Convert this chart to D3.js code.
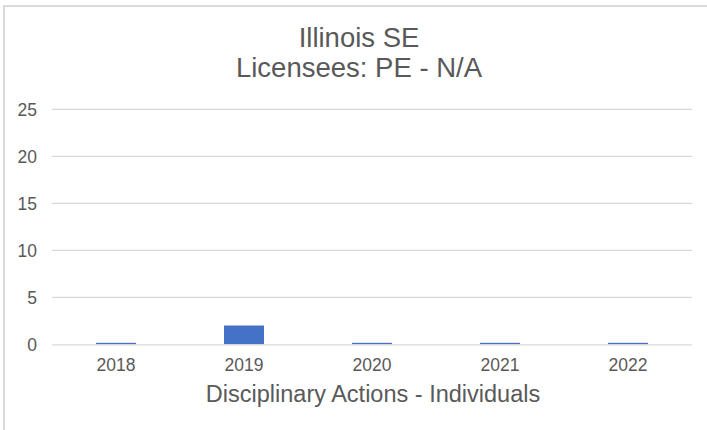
<!DOCTYPE html>
<html>
<head>
<meta charset="utf-8">
<script src="https://cdn.jsdelivr.net/npm/d3@7/dist/d3.min.js"></script>
<style>
  html, body { margin: 0; padding: 0; background: #fff; }
  svg { display: block; font-family: "Liberation Sans", Arial, sans-serif; }
</style>
</head>
<body>
<svg id="chart" width="707" height="430"></svg>
<script>
// Disciplinary actions per year
const categories = ["2018", "2019", "2020", "2021", "2022"];
const values = [0, 2, 0, 0, 0];
const yTicks = [0, 5, 10, 15, 20, 25];
const titleLines = ["Illinois SE", "Licensees: PE - N/A"];
const axisTitle = "Disciplinary Actions - Individuals";

const svg = d3.select("#chart");
const W = 707, H = 430;
const plot = { left: 52, right: 692, top: 109.3, bottom: 344.3 };
const textColor = "#595959";
const gridColor = "#d9d9d9";
const font = "Liberation Sans, Arial, sans-serif";

// chart frame
svg.append("path")
  .attr("d", `M4,${H} L4,6 L${W},6`)
  .attr("fill", "none")
  .attr("stroke", gridColor)
  .attr("stroke-width", 2);

const x = d3.scaleBand()
  .domain(categories)
  .range([plot.left, plot.right])
  .paddingInner(0.6875)
  .paddingOuter(0.34375);

const y = d3.scaleLinear()
  .domain([0, 25])
  .range([plot.bottom, plot.top]);

// horizontal gridlines
svg.append("g")
  .selectAll("line")
  .data(yTicks.filter(t => t !== 0))
  .join("line")
  .attr("x1", plot.left).attr("x2", plot.right)
  .attr("y1", d => y(d)).attr("y2", d => y(d))
  .attr("stroke", gridColor).attr("stroke-width", 1.3);

// y tick labels
const yAxis = d3.axisLeft(y).tickValues(yTicks).tickSize(0).tickPadding(0);
const gy = svg.append("g").attr("transform", `translate(37,0)`).call(yAxis);
gy.select(".domain").remove();
gy.selectAll("text")
  .attr("fill", textColor)
  .attr("font-size", 17.5)
  .attr("dy", "0.34em")
  .attr("font-family", font);

// bars (zero values keep a hairline)
svg.append("g")
  .selectAll("rect")
  .data(categories.map((c, i) => ({ c, v: values[i] })))
  .join("rect")
  .attr("x", d => x(d.c))
  .attr("width", x.bandwidth())
  .attr("y", d => Math.min(y(d.v), plot.bottom - 1.5))
  .attr("height", d => Math.max(plot.bottom - y(d.v), 1.5))
  .attr("fill", "#4472C4");

// category axis
const xAxis = d3.axisBottom(x).tickSize(0).tickPadding(0);
const gx = svg.append("g").attr("transform", `translate(0,${plot.bottom})`).call(xAxis);
gx.select(".domain")
  .attr("stroke", gridColor).attr("stroke-width", 1.3)
  .attr("d", `M${plot.left},0.5H${plot.right}`);
gx.selectAll("text")
  .attr("fill", textColor)
  .attr("font-size", 17.5)
  .attr("dy", null)
  .attr("y", 26.3)
  .attr("font-family", font);

// title
svg.append("g")
  .selectAll("text")
  .data(titleLines)
  .join("text")
  .attr("x", 359)
  .attr("y", (d, i) => 47 + i * 30)
  .attr("text-anchor", "middle")
  .attr("fill", textColor)
  .attr("font-size", 27.5)
  .text(d => d);

// axis title
svg.append("text")
  .attr("x", 373)
  .attr("y", 401.5)
  .attr("text-anchor", "middle")
  .attr("fill", textColor)
  .attr("font-size", 23.5)
  .text(axisTitle);
</script>
</body>
</html>
